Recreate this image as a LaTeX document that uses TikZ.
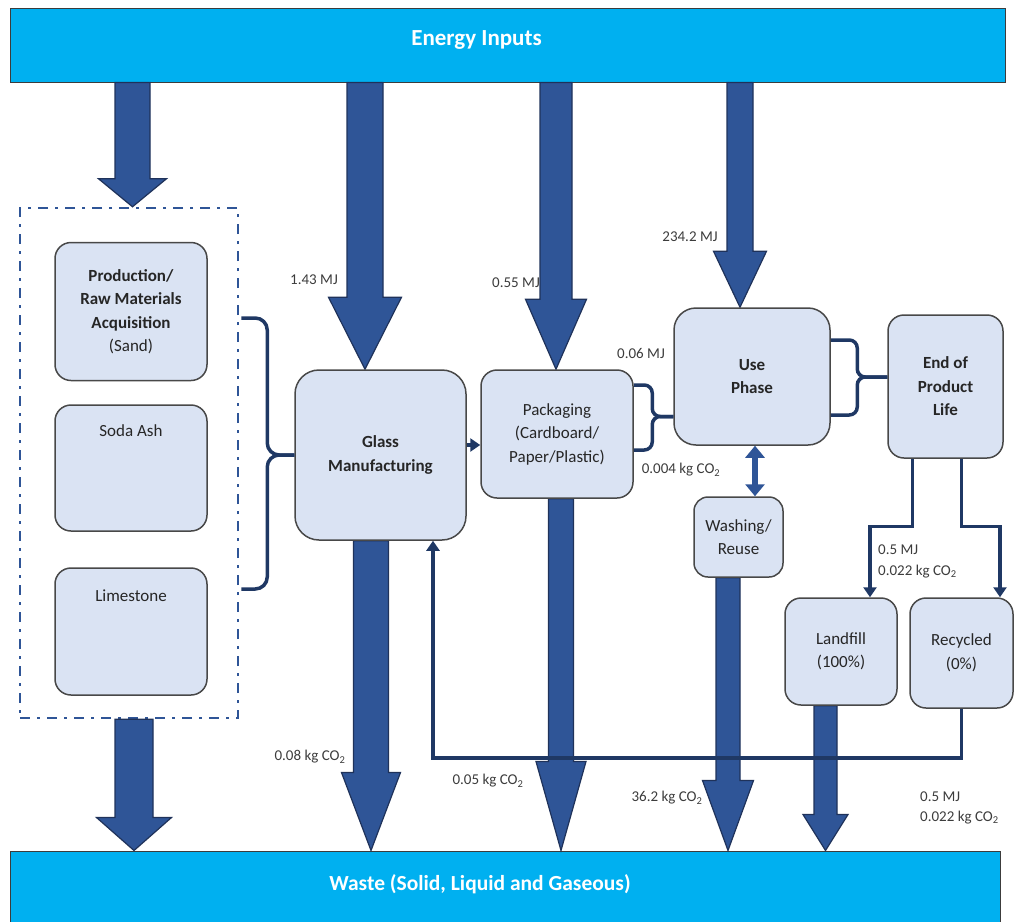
\documentclass[tikz,border=0pt]{standalone}
\usepackage{fontspec}
\setmainfont{Carlito}
\usetikzlibrary{arrows.meta,calc}
\definecolor{barcyan}{RGB}{0,176,240}
\definecolor{flowblue}{RGB}{47,85,151}
\definecolor{flowedge}{RGB}{31,50,90}
\definecolor{linknavy}{RGB}{31,56,100}
\definecolor{stagefill}{RGB}{218,227,243}
\definecolor{stageedge}{RGB}{72,72,72}
\definecolor{inkgray}{RGB}{60,60,60}
\pgfdeclarelayer{back}
\pgfdeclarelayer{flow}
\pgfsetlayers{back,flow,main}
\tikzset{
  bar/.style={draw=inkgray,line width=1pt,fill=barcyan,inner sep=0pt},
  bartext/.style={text=white,inner sep=0pt,
    font=\fontsize{23}{27}\selectfont\bfseries},
  stage/.style={draw=stageedge,line width=1.5pt,fill=stagefill,
    rounded corners=16pt,align=center,inner sep=0pt,text=black!85,
    font=\fontsize{17}{23.5}\selectfont},
  stagebold/.style={stage,font=\fontsize{17}{23.5}\selectfont\bfseries},
  stagelab/.style={anchor=north,inner sep=0pt,text=black!85,
    font=\fontsize{17}{23.5}\selectfont},
  matframe/.style={draw=flowblue,line width=2.5pt,inner sep=0pt,
    dash pattern=on 10pt off 7pt on 3pt off 7pt},
  bigflow/.style={draw=flowedge,line width=1.2pt,fill=flowblue},
  brace/.style={draw=linknavy,line width=3.5pt,rounded corners=12pt},
  linkflow/.style={draw=linknavy,line width=3.5pt,
    -{Triangle[width=13pt,length=10pt]}},
  dblflow/.style={draw=flowblue,line width=6pt,
    {Triangle[width=19pt,length=12pt]}-{Triangle[width=19pt,length=12pt]}},
  lab/.style={text=inkgray,inner sep=0pt,align=left,
    font=\fontsize{15}{21}\selectfont}
}
% block arrow: x reference, from, to, half shaft, half head, head length
\newcommand{\bigarrow}[6]{%
  \draw[bigflow] let \p1=(#1), \p2=(#2), \p3=(#3) in
    (\x1-#4pt,\y2) -- (\x1-#4pt,\y3+#6pt) -- (\x1-#5pt,\y3+#6pt) -- (\x1,\y3)
    -- (\x1+#5pt,\y3+#6pt) -- (\x1+#4pt,\y3+#6pt) -- (\x1+#4pt,\y2) -- cycle;}

\begin{document}
\begin{tikzpicture}[x=1pt,y=-1pt]
  \useasboundingbox (0,0) rectangle (1014,921);
  % bars and raw materials group
  \begin{pgfonlayer}{back}
    \node[bar,minimum width=995pt,minimum height=74pt] (energy) at (507.5,45) {};
    \node[bar,minimum width=990pt,minimum height=74pt] (waste) at (505,888) {};
    \node[matframe,minimum width=218pt,minimum height=510pt] (mats) at (129,463) {};
  \end{pgfonlayer}
  \node[bartext] (energytxt) at ($(energy)+(-31,-5)$) {Energy Inputs};
  \node[bartext,font=\fontsize{21.5}{26}\selectfont\bfseries] (wastetxt)
    at ($(waste)+(-25,-4)$) {Waste (Solid, Liquid and Gaseous)};
  % stages
  \node[stage,minimum width=152pt,minimum height=138pt] (raw) at (131,311.5)
    {\textbf{Production/}\\\textbf{Raw Materials}\\\textbf{Acquisition}\\(Sand)};
  \node[stage,minimum width=152pt,minimum height=126pt,
    label={[stagelab,yshift=-20pt]north:Soda Ash}] (soda) at (131,468) {};
  \node[stage,minimum width=152pt,minimum height=127pt,
    label={[stagelab,yshift=-22pt]north:Limestone}] (lime) at (131,631.5) {};
  \node[stagebold,rounded corners=24pt,minimum width=171pt,minimum height=170pt]
    (glass) at (380.5,455) {Glass\\Manufacturing};
  \node[stage,minimum width=152pt,minimum height=128pt] (pack) at (557,434)
    {Packaging\\(Cardboard/\\Paper/Plastic)};
  \node[stagebold,rounded corners=22pt,minimum width=156pt,minimum height=137pt]
    (use) at (752,376.5) {Use\\Phase};
  \node[stagebold,minimum width=115pt,minimum height=143pt] (eol) at (945.5,386.5)
    {End of\\Product\\Life};
  \node[stage,rounded corners=14pt,minimum width=89pt,minimum height=80pt]
    (wash) at (738.5,537) {Washing/\\Reuse};
  \node[stage,minimum width=112pt,minimum height=107pt] (land) at (841,651.5)
    {Landfill\\(100\%)};
  \node[stage,minimum width=103pt,minimum height=110pt] (recy) at (961.5,653)
    {Recycled\\(0\%)};
  % energy and waste flows
  \begin{pgfonlayer}{flow}
    \bigarrow{[xshift=3.5pt]mats.north}{energy.south}{mats.north}{17.5}{34}{28}
    \bigarrow{[xshift=-15.5pt]glass.north}{energy.south}{glass.north}{18}{36.5}{72}
    \bigarrow{[xshift=-1pt]pack.north}{energy.south}{pack.north}{16}{30.5}{70}
    \bigarrow{[xshift=-12pt]use.north}{energy.south}{use.north}{13}{26.5}{56}
    \bigarrow{[xshift=5pt]mats.south}{mats.south}{waste.north}{19}{37.5}{33}
    \bigarrow{[xshift=-9.5pt]glass.south}{glass.south}{waste.north}{17.5}{29.5}{78}
    \bigarrow{[xshift=4pt]pack.south}{pack.south}{waste.north}{12.5}{25}{89}
    \bigarrow{[xshift=-10.5pt]wash.south}{wash.south}{waste.north}{12}{25.5}{70}
    \bigarrow{[xshift=-15.5pt]land.south}{land.south}{waste.north}{11.5}{22.5}{36}
  \end{pgfonlayer}
  % braces
  \draw[brace] ($(mats.east)+(2,-145)$) -| ($(glass.west)+(-27,0)$) -- (glass.west);
  \draw[brace] ($(mats.east)+(2,126)$) -| ($(glass.west)+(-27,0)$) -- (glass.west);
  \draw[brace,rounded corners=8pt] ($(pack.east)+(0,-49)$) -| ($(use.west)+(-21,40)$)
    -- ($(use.west)+(0,40)$);
  \draw[brace,rounded corners=8pt] ($(pack.east)+(0,16)$) -| ($(use.west)+(-21,40)$)
    -- ($(use.west)+(0,40)$);
  \draw[brace,rounded corners=8pt] ($(use.east)+(0,-36.5)$) -| ($(eol.west)+(-30,-9.5)$)
    -- ($(eol.west)+(0,-9.5)$);
  \draw[brace,rounded corners=8pt] ($(use.east)+(0,38.5)$) -| ($(eol.west)+(-30,-9.5)$)
    -- ($(eol.west)+(0,-9.5)$);
  % links
  \draw[linkflow] ($(glass.east)+(0,-10)$) -- ($(pack.west|-glass.east)+(0,-10)$);
  \draw[dblflow] ($(use.south)+(3,0)$) -- ($(wash.north)+(16.5,0)$);
  \draw[linkflow] ($(eol.south)+(-33,0)$) |- ($(land.north)+(29,-71)$)
    -- ($(land.north)+(29,0)$);
  \draw[linkflow] ($(eol.south)+(16,0)$) |- ($(recy.north)+(38.5,-71)$)
    -- ($(recy.north)+(38.5,0)$);
  \draw[linkflow] (recy.south) |- ($(glass.south)+(52.5,217)$)
    -- ($(glass.south)+(52.5,0)$);
  % values
  \node[lab] (glassmj) at (314,280) {1.43 MJ};
  \node[lab] (packmj) at (516,283) {0.55 MJ};
  \node[lab] (usemj) at (690,237) {234.2 MJ};
  \node[lab] (transmj) at (641,353) {0.06 MJ};
  \node[lab] (transco) at (681,470) {0.004 kg CO\textsubscript{2}};
  \node[lab,anchor=west] (landin) at (878,561) {0.5 MJ\\0.022 kg CO\textsubscript{2}};
  \node[lab] (glassco) at (310,757) {0.08 kg CO\textsubscript{2}};
  \node[lab] (packco) at (488,781) {0.05 kg CO\textsubscript{2}};
  \node[lab] (washco) at (667,798) {36.2 kg CO\textsubscript{2}};
  \node[lab,anchor=west,font=\fontsize{15}{20}\selectfont] (landco) at (920,808)
    {0.5 MJ\\0.022 kg CO\textsubscript{2}};
\end{tikzpicture}
\end{document}
